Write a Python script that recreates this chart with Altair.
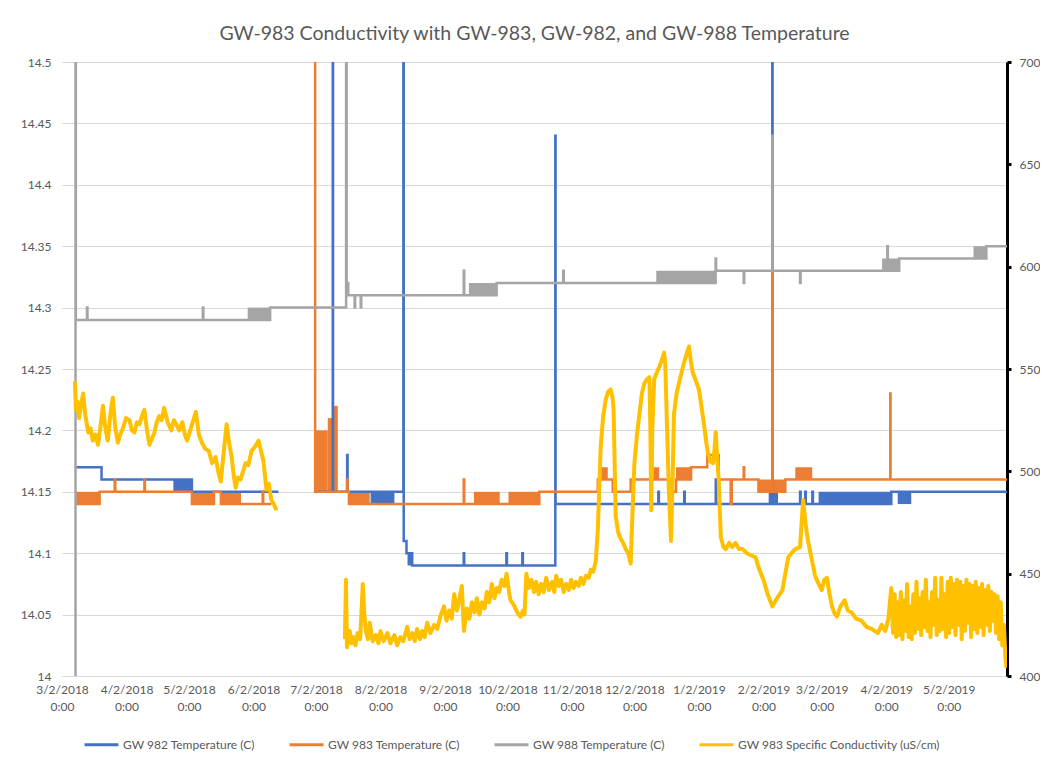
import altair as alt
import pandas as pd

TITLE = "GW-983 Conductivity with GW-983, GW-982, and GW-988 Temperature"
SERIES = ["GW 982 Temperature (C)", "GW 983 Temperature (C)",
          "GW 988 Temperature (C)", "GW 983 Specific Conductivity (uS/cm)"]
COLORS = ["#4472C4", "#ED7D31", "#A5A5A5", "#FFC000"]
TICK_MONTHS = [(2018, 3), (2018, 4), (2018, 5), (2018, 6), (2018, 7), (2018, 8), (2018, 9),
               (2018, 10), (2018, 11), (2018, 12), (2019, 1), (2019, 2), (2019, 3), (2019, 4), (2019, 5)]
TEMP_TICKS = [14.0, 14.05, 14.1, 14.15, 14.2, 14.25, 14.3, 14.35, 14.4, 14.45, 14.5]
COND_TICKS = [400, 450, 500, 550, 600, 650, 700]

# GW 982 temperature (None = gap in record)
gw982 = [("2018-03-08T16", 14.17), ("2018-03-21T00", 14.16), ("2018-05-03T10", 14.15), ("2018-06-14T00", 14.15),
         None,
         ("2018-07-03T00", 14.15), ("2018-07-10T02", 14.80), ("2018-07-10T05", 14.15),
         ("2018-07-17T00", 14.18), ("2018-07-17T05", 14.15), ("2018-08-13T00", 14.80),
         ("2018-08-13T04", 14.11), ("2018-08-14T12", 14.10), ("2018-08-17T06", 14.09),
         ("2018-09-11T00", 14.10), ("2018-09-11T06", 14.09), ("2018-10-01T12", 14.10), ("2018-10-01T18", 14.09),
         ("2018-10-09T04", 14.10), ("2018-10-09T10", 14.09), ("2018-10-25T00", 14.44), ("2018-10-25T03", 14.14),
         ("2018-12-13T12", 14.15), ("2018-12-13T18", 14.14), ("2018-12-25T22", 14.15), ("2018-12-26T04", 14.14),
         ("2019-01-10T02", 14.16), ("2019-01-10T08", 14.14), ("2019-02-06T06", 14.80), ("2019-02-06T09", 14.14),
         ("2019-02-19T14", 14.15), ("2019-02-19T20", 14.14), ("2019-02-22T02", 14.15), ("2019-02-22T08", 14.14),
         ("2019-02-25T12", 14.15), ("2019-02-25T18", 14.14), ("2019-04-04T10", 14.15), ("2019-05-30T00", 14.15)]
bands982 = [("2018-04-24T12", "2018-05-03T10", 14.15, 14.16), ("2018-07-28T06", "2018-08-08T17", 14.14, 14.15),
            ("2018-08-15T00", "2018-08-17T06", 14.09, 14.10), ("2019-02-04T12", "2019-02-09T00", 14.14, 14.15),
            ("2019-02-28T12", "2019-04-04T10", 14.14, 14.15), ("2019-04-07T12", "2019-04-14T00", 14.14, 14.15)]

# GW 983 temperature
gw983 = [("2018-03-08T16", 14.14), ("2018-03-20T02", 14.15), ("2018-03-27T08", 14.16), ("2018-03-27T14", 14.15),
         ("2018-04-10T14", 14.16), ("2018-04-10T20", 14.15), ("2018-05-03T10", 14.14), ("2018-05-14T00", 14.15),
         ("2018-05-17T08", 14.14), ("2018-06-06T10", 14.15), ("2018-06-06T16", 14.14), ("2018-06-10T12", 14.14),
         None,
         ("2018-07-01T12", 14.80), ("2018-07-01T15", 14.15), ("2018-07-16T22", 14.16), ("2018-07-17T04", 14.15),
         ("2018-07-17T20", 14.14), ("2018-09-11T00", 14.16), ("2018-09-11T06", 14.14), ("2018-10-17T07", 14.15),
         ("2018-11-14T10", 14.16), ("2018-11-21T14", 14.15), ("2018-11-30T05", 14.16), ("2018-12-18T17", 14.15),
         ("2018-12-22T00", 14.16), ("2018-12-29T05", 14.17), ("2019-01-06T00", 14.18), ("2019-01-11T12", 14.16),
         ("2019-01-17T06", 14.14), ("2019-01-17T18", 14.16), ("2019-01-23T12", 14.17), ("2019-01-23T18", 14.16),
         ("2019-01-30T14", 14.15), ("2019-02-06T06", 14.33), ("2019-02-06T09", 14.15), ("2019-02-12T12", 14.16),
         ("2019-04-03T22", 14.23), ("2019-04-04T01", 14.16), ("2019-05-30T00", 14.16)]
bands983 = [("2018-03-08T16", "2018-03-20T02", 14.14, 14.15), ("2018-05-03T10", "2018-05-14T00", 14.14, 14.15),
            ("2018-05-17T08", "2018-05-27T00", 14.14, 14.15), ("2018-07-02T00", "2018-07-07T16", 14.15, 14.20),
            ("2018-07-07T16", "2018-07-10T14", 14.15, 14.21), ("2018-07-10T14", "2018-07-12T12", 14.15, 14.22),
            ("2018-07-18T05", "2018-07-27T20", 14.14, 14.15), ("2018-09-15T22", "2018-09-28T07", 14.14, 14.15),
            ("2018-10-02T12", "2018-10-16T19", 14.14, 14.15), ("2018-11-15T19", "2018-11-19T05", 14.16, 14.17),
            ("2018-12-11T02", "2018-12-13T22", 14.16, 14.17), ("2018-12-22T00", "2018-12-29T05", 14.16, 14.17),
            ("2019-01-30T14", "2019-02-12T12", 14.15, 14.16), ("2019-02-17T07", "2019-02-25T10", 14.16, 14.17)]

# GW 988 temperature
gw988 = [("2018-03-08T08", 13.60), ("2018-03-08T12", 14.80), ("2018-03-08T16", 14.29),
         ("2018-03-14T00", 14.30), ("2018-03-14T06", 14.29), ("2018-05-08T16", 14.30), ("2018-05-08T22", 14.29),
         ("2018-06-10T00", 14.30), ("2018-07-16T12", 14.80), ("2018-07-16T18", 14.32), ("2018-07-17T12", 14.31),
         ("2018-07-20T14", 14.30), ("2018-07-20T20", 14.31), ("2018-07-23T12", 14.30), ("2018-07-23T18", 14.31),
         ("2018-09-11T00", 14.33), ("2018-09-11T06", 14.31), ("2018-09-26T19", 14.32),
         ("2018-10-28T19", 14.33), ("2018-10-29T01", 14.32), ("2019-01-10T00", 14.34), ("2019-01-10T06", 14.33),
         ("2019-01-23T12", 14.32), ("2019-01-23T18", 14.33), ("2019-02-06T06", 14.44), ("2019-02-06T09", 14.33),
         ("2019-02-19T14", 14.32), ("2019-02-19T20", 14.33), ("2019-04-02T12", 14.35), ("2019-04-02T18", 14.33),
         ("2019-04-08T05", 14.34), ("2019-05-20T02", 14.35), ("2019-05-30T00", 14.35)]
bands988 = [("2018-05-30T05", "2018-06-10T00", 14.29, 14.30), ("2018-09-13T12", "2018-09-26T19", 14.31, 14.32),
            ("2018-12-12T12", "2019-01-10T00", 14.32, 14.33), ("2019-03-31T00", "2019-04-08T05", 14.33, 14.34),
            ("2019-05-13T22", "2019-05-20T02", 14.34, 14.35)]

# GW 983 specific conductivity (right axis)
cond = [("2018-03-08T05", 544), ("2018-03-08T16", 530), ("2018-03-09T12", 534), ("2018-03-10T06", 526),
        ("2018-03-11T06", 533), ("2018-03-12T04", 538), ("2018-03-13T06", 527), ("2018-03-14T14", 519),
        ("2018-03-15T18", 521), ("2018-03-16T19", 515), ("2018-03-18T00", 518), ("2018-03-19T07", 513),
        ("2018-03-20T12", 522), ("2018-03-21T16", 532), ("2018-03-22T20", 521), ("2018-03-24T00", 515),
        ("2018-03-25T06", 528), ("2018-03-26T10", 536), ("2018-03-27T12", 522), ("2018-03-28T20", 514),
        ("2018-03-30T00", 518), ("2018-03-31T06", 521), ("2018-04-01T18", 526), ("2018-04-03T10", 525),
        ("2018-04-04T14", 520), ("2018-04-05T19", 519), ("2018-04-07T00", 524), ("2018-04-08T05", 523),
        ("2018-04-09T10", 527), ("2018-04-10T14", 530), ("2018-04-11T20", 520), ("2018-04-13T00", 513),
        ("2018-04-14T06", 516), ("2018-04-15T10", 519), ("2018-04-16T12", 524), ("2018-04-17T17", 527),
        ("2018-04-18T20", 525), ("2018-04-20T02", 531), ("2018-04-21T18", 524), ("2018-04-23T12", 520),
        ("2018-04-24T18", 525), ("2018-04-25T22", 523), ("2018-04-27T08", 520), ("2018-04-28T19", 524),
        ("2018-04-30T00", 518), ("2018-05-01T02", 515), ("2018-05-03T04", 522), ("2018-05-05T07", 529),
        ("2018-05-06T18", 518), ("2018-05-08T05", 514), ("2018-05-09T20", 511), ("2018-05-11T12", 510),
        ("2018-05-13T04", 504), ("2018-05-14T19", 507), ("2018-05-16T00", 500), ("2018-05-17T07", 495),
        ("2018-05-18T18", 510), ("2018-05-20T02", 523), ("2018-05-21T06", 514), ("2018-05-22T12", 507),
        ("2018-05-23T12", 498), ("2018-05-24T10", 492), ("2018-05-25T12", 497), ("2018-05-26T19", 496),
        ("2018-05-28T00", 500), ("2018-05-29T05", 504), ("2018-05-30T12", 503), ("2018-06-01T02", 510),
        ("2018-06-02T18", 512), ("2018-06-04T10", 515), ("2018-06-05T14", 510), ("2018-06-06T19", 505),
        ("2018-06-08T05", 491), ("2018-06-09T08", 494), ("2018-06-10T14", 486), ("2018-06-11T18", 484),
        ("2018-06-13T00", 481),
        None,
        ("2018-07-15T22", 418), ("2018-07-16T10", 447), ("2018-07-16T22", 414), ("2018-07-18T05", 422),
        ("2018-07-19T00", 416), ("2018-07-20T00", 419), ("2018-07-21T00", 415), ("2018-07-22T00", 421),
        ("2018-07-23T06", 418), ("2018-07-24T12", 445), ("2018-07-25T06", 430), ("2018-07-26T00", 422),
        ("2018-07-27T00", 418), ("2018-07-27T20", 426), ("2018-07-29T06", 417), ("2018-07-30T19", 420),
        ("2018-08-01T00", 416), ("2018-08-02T00", 422), ("2018-08-03T12", 417), ("2018-08-05T09", 421),
        ("2018-08-06T18", 416), ("2018-08-08T17", 420), ("2018-08-10T00", 415), ("2018-08-11T14", 419),
        ("2018-08-13T00", 417), ("2018-08-14T21", 424), ("2018-08-16T00", 418), ("2018-08-17T07", 421),
        ("2018-08-18T12", 417), ("2018-08-19T14", 423), ("2018-08-21T00", 418), ("2018-08-22T00", 422),
        ("2018-08-23T06", 419), ("2018-08-24T10", 426), ("2018-08-26T00", 421), ("2018-08-27T19", 425),
        ("2018-08-29T06", 423), ("2018-08-30T17", 429), ("2018-09-01T12", 434), ("2018-09-02T18", 427),
        ("2018-09-04T00", 432), ("2018-09-05T06", 428), ("2018-09-06T10", 440), ("2018-09-07T17", 432),
        ("2018-09-09T00", 438), ("2018-09-10T02", 444), ("2018-09-11T02", 422), ("2018-09-12T12", 433),
        ("2018-09-13T18", 428), ("2018-09-14T22", 436), ("2018-09-16T06", 431), ("2018-09-17T07", 438),
        ("2018-09-18T12", 430), ("2018-09-19T17", 436), ("2018-09-21T00", 433), ("2018-09-22T02", 441),
        ("2018-09-23T06", 436), ("2018-09-24T12", 445), ("2018-09-25T18", 438), ("2018-09-26T19", 443),
        ("2018-09-28T00", 441), ("2018-09-29T05", 447), ("2018-09-30T12", 444), ("2018-10-01T14", 450),
        ("2018-10-02T18", 441), ("2018-10-03T12", 437), ("2018-10-05T10", 434), ("2018-10-06T18", 431),
        ("2018-10-08T07", 429), ("2018-10-09T12", 432), ("2018-10-10T05", 430), ("2018-10-11T02", 450),
        ("2018-10-12T06", 443), ("2018-10-13T12", 447), ("2018-10-14T18", 441), ("2018-10-15T19", 446),
        ("2018-10-17T00", 440), ("2018-10-18T05", 445), ("2018-10-19T10", 441), ("2018-10-20T14", 448),
        ("2018-10-22T00", 442), ("2018-10-23T12", 446), ("2018-10-24T12", 441), ("2018-10-25T10", 449),
        ("2018-10-26T18", 444), ("2018-10-27T19", 447), ("2018-10-29T00", 441), ("2018-10-30T05", 445),
        ("2018-10-31T12", 442), ("2018-11-01T14", 447), ("2018-11-02T18", 443), ("2018-11-03T22", 446),
        ("2018-11-05T06", 444), ("2018-11-06T07", 448), ("2018-11-07T12", 445), ("2018-11-08T17", 449),
        ("2018-11-10T00", 448), ("2018-11-11T02", 452), ("2018-11-12T06", 451), ("2018-11-13T10", 456),
        ("2018-11-14T10", 471), ("2018-11-15T19", 512), ("2018-11-17T00", 527), ("2018-11-18T05", 535),
        ("2018-11-19T10", 539), ("2018-11-20T14", 540), ("2018-11-21T12", 536), ("2018-11-22T00", 530),
        ("2018-11-23T00", 478), ("2018-11-24T06", 470), ("2018-11-25T10", 467), ("2018-11-26T14", 465),
        ("2018-11-27T19", 462), ("2018-11-29T00", 460), ("2018-11-30T05", 455), ("2018-12-01T00", 478),
        ("2018-12-02T00", 504), ("2018-12-03T06", 518), ("2018-12-04T10", 528), ("2018-12-05T14", 538),
        ("2018-12-06T19", 543), ("2018-12-08T00", 545), ("2018-12-09T05", 546), ("2018-12-09T16", 520),
        ("2018-12-10T02", 481), ("2018-12-10T14", 520), ("2018-12-11T12", 545), ("2018-12-12T16", 548),
        ("2018-12-13T22", 551), ("2018-12-15T02", 554), ("2018-12-16T07", 558), ("2018-12-16T20", 552),
        ("2018-12-17T17", 520), ("2018-12-18T14", 490), ("2018-12-19T14", 466), ("2018-12-20T08", 495),
        ("2018-12-21T00", 528), ("2018-12-22T06", 538), ("2018-12-23T10", 543), ("2018-12-24T14", 548),
        ("2018-12-25T19", 553), ("2018-12-27T00", 557), ("2018-12-28T05", 561), ("2018-12-29T02", 554),
        ("2018-12-30T02", 548), ("2018-12-31T06", 545), ("2019-01-02T00", 540), ("2019-01-03T04", 532),
        ("2019-01-04T10", 523), ("2019-01-05T10", 515), ("2019-01-06T07", 509), ("2019-01-07T12", 505),
        ("2019-01-08T17", 504), ("2019-01-09T10", 510), ("2019-01-10T02", 519), ("2019-01-10T20", 505),
        ("2019-01-11T12", 496), ("2019-01-12T12", 468), ("2019-01-13T18", 463), ("2019-01-14T22", 462),
        ("2019-01-16T12", 465), ("2019-01-18T00", 463), ("2019-01-19T14", 465), ("2019-01-21T06", 462),
        ("2019-01-23T00", 462), ("2019-01-25T00", 460), ("2019-01-27T00", 459), ("2019-01-29T05", 458),
        ("2019-01-31T00", 452), ("2019-02-02T00", 447), ("2019-02-04T00", 440), ("2019-02-06T07", 434),
        ("2019-02-08T12", 438), ("2019-02-11T02", 442), ("2019-02-12T12", 450), ("2019-02-13T22", 458),
        ("2019-02-15T12", 460), ("2019-02-17T07", 462), ("2019-02-19T14", 463), ("2019-02-20T08", 475),
        ("2019-02-21T02", 486), ("2019-02-22T06", 474), ("2019-02-23T10", 466), ("2019-02-25T00", 458),
        ("2019-02-26T19", 449), ("2019-02-28T12", 445), ("2019-03-02T00", 442), ("2019-03-03T06", 447),
        ("2019-03-04T12", 448), ("2019-03-05T18", 440), ("2019-03-06T22", 434), ("2019-03-08T00", 431),
        ("2019-03-09T07", 429), ("2019-03-11T00", 434), ("2019-03-13T00", 437), ("2019-03-14T12", 432),
        ("2019-03-16T10", 431), ("2019-03-18T12", 428), ("2019-03-21T02", 427), ("2019-03-23T12", 424),
        ("2019-03-26T00", 423), ("2019-03-28T22", 421), ("2019-03-30T19", 425), ("2019-04-01T12", 422),
        ("2019-04-03T00", 428), ("2019-04-04T10", 443), ("2019-04-05T06", 421), ("2019-04-06T00", 440),
        ("2019-04-06T18", 419), ("2019-04-07T12", 436), ("2019-04-08T06", 420), ("2019-04-09T00", 441),
        ("2019-04-09T18", 418), ("2019-04-10T12", 437), ("2019-04-11T06", 422), ("2019-04-12T00", 445),
        ("2019-04-12T18", 419), ("2019-04-13T12", 434), ("2019-04-14T06", 418), ("2019-04-15T00", 440),
        ("2019-04-15T18", 421), ("2019-04-16T12", 446), ("2019-04-17T06", 423), ("2019-04-18T00", 438),
        ("2019-04-18T18", 420), ("2019-04-19T12", 441), ("2019-04-20T06", 424), ("2019-04-21T00", 447),
        ("2019-04-21T18", 422), ("2019-04-22T12", 436), ("2019-04-23T06", 419), ("2019-04-24T00", 441),
        ("2019-04-24T18", 425), ("2019-04-25T12", 448), ("2019-04-26T06", 420), ("2019-04-27T00", 437),
        ("2019-04-27T18", 422), ("2019-04-28T12", 448), ("2019-04-29T06", 423), ("2019-04-30T00", 440),
        ("2019-04-30T18", 419), ("2019-05-01T12", 446), ("2019-05-02T06", 421), ("2019-05-03T00", 448),
        ("2019-05-03T18", 424), ("2019-05-04T12", 445), ("2019-05-05T06", 420), ("2019-05-06T00", 447),
        ("2019-05-06T18", 425), ("2019-05-07T12", 446), ("2019-05-08T06", 418), ("2019-05-09T00", 444),
        ("2019-05-09T18", 422), ("2019-05-10T12", 447), ("2019-05-11T06", 426), ("2019-05-12T00", 445),
        ("2019-05-12T18", 419), ("2019-05-13T12", 444), ("2019-05-14T06", 423), ("2019-05-15T00", 446),
        ("2019-05-15T18", 421), ("2019-05-16T12", 443), ("2019-05-17T06", 424), ("2019-05-18T00", 445),
        ("2019-05-18T18", 420), ("2019-05-19T12", 442), ("2019-05-20T06", 425), ("2019-05-21T00", 444),
        ("2019-05-21T18", 422), ("2019-05-22T12", 441), ("2019-05-23T06", 427), ("2019-05-24T00", 440),
        ("2019-05-24T18", 421), ("2019-05-25T12", 439), ("2019-05-26T06", 418), ("2019-05-27T00", 436),
        ("2019-05-27T18", 415), ("2019-05-28T12", 425), ("2019-05-29T06", 409), ("2019-05-29T18", 404)]


def line_rows(name, pts):
    rows, seg = [], 0
    for p in pts:
        if p is None:
            seg += 1
            continue
        rows.append({"series": name, "seg": f"{name}|{seg}", "t": p[0] + ":00", "v": p[1]})
    return rows


def band_rows(name, bands):
    return [{"series": name, "t0": a + ":00", "t1": b + ":00", "lo": lo, "hi": hi} for a, b, lo, hi in bands]


temp_df = pd.DataFrame(line_rows(SERIES[0], gw982) + line_rows(SERIES[1], gw983) + line_rows(SERIES[2], gw988))
temp_df["t"] = pd.to_datetime(temp_df["t"])
cond_df = pd.DataFrame(line_rows(SERIES[3], cond))
cond_df["t"] = pd.to_datetime(cond_df["t"])
band_df = pd.DataFrame(band_rows(SERIES[0], bands982) + band_rows(SERIES[1], bands983) + band_rows(SERIES[2], bands988))
band_df["t0"] = pd.to_datetime(band_df["t0"])
band_df["t1"] = pd.to_datetime(band_df["t1"])

FONT = "Lato"
GREY_TEXT = "#595959"

x_scale = alt.Scale(domain=[alt.DateTime(year=2018, month=3, date=2), alt.DateTime(year=2019, month=5, date=30)])
x_axis = alt.Axis(values=[alt.DateTime(year=y, month=m, date=2) for y, m in TICK_MONTHS],
                  labelExpr="[timeFormat(datum.value, '%-m/%-d/%Y'), '0:00']",
                  labelOverlap=False, labelFlush=False, ticks=False, grid=False,
                  domainColor="#D9D9D9", labelPadding=8, labelLineHeight=17, labelFontSize=12)
temp_scale = alt.Scale(domain=[14, 14.5], nice=False, zero=False)
temp_axis = alt.Axis(values=TEMP_TICKS, format="~g", grid=True, gridColor="#D9D9D9", domain=False,
                     ticks=False, tickSize=0, labelPadding=11, labelFontSize=12, orient="left")
cond_scale = alt.Scale(domain=[400, 700], nice=False, zero=False)
cond_axis = alt.Axis(values=COND_TICKS, grid=False, orient="right", domainColor="black", domainWidth=3,
                     tickColor="black", tickWidth=3, tickSize=4, labelPadding=8, labelFontSize=12)
color = alt.Color("series:N", scale=alt.Scale(domain=SERIES, range=COLORS),
                  legend=alt.Legend(title=None, orient="none", legendX=21, legendY=664, direction="horizontal",
                                    symbolType="stroke", symbolSize=1150, symbolStrokeWidth=3, labelFontSize=12,
                                    labelOffset=3, columnPadding=28, labelLimit=300))

bands = alt.Chart(band_df).mark_rect(clip=True).encode(
    x=alt.X("t0:T", scale=x_scale, axis=x_axis, title=None),
    x2="t1:T",
    y=alt.Y("lo:Q", scale=temp_scale, axis=temp_axis, title=None),
    y2="hi:Q",
    color=color,
)
temp_lines = alt.Chart(temp_df).mark_line(interpolate="step-after", strokeWidth=2.5, clip=True).encode(
    x=alt.X("t:T", scale=x_scale, axis=x_axis, title=None),
    y=alt.Y("v:Q", scale=temp_scale, axis=temp_axis, title=None),
    color=color,
    detail="seg:N",
)
cond_line = alt.Chart(cond_df).mark_line(strokeWidth=4, clip=True, strokeJoin="round").encode(
    x=alt.X("t:T", scale=x_scale, axis=x_axis, title=None),
    y=alt.Y("v:Q", scale=cond_scale, axis=cond_axis, title=None),
    color=color,
    detail="seg:N",
)

temp_layer = alt.layer(bands, temp_lines)
chart = alt.layer(temp_layer, cond_line).resolve_scale(y="independent").properties(
    width=945, height=614,
    title=alt.Title(TITLE, fontSize=19.5, font=FONT, color=GREY_TEXT, fontWeight="normal", offset=12),
    padding={"left": 12, "top": 15, "right": 0, "bottom": 0},
).configure_view(stroke=None).configure_axis(
    labelFont=FONT, labelColor=GREY_TEXT
).configure_legend(labelFont=FONT, labelColor=GREY_TEXT)

chart.save("out.html", embed_options={"renderer": "svg", "actions": False})
